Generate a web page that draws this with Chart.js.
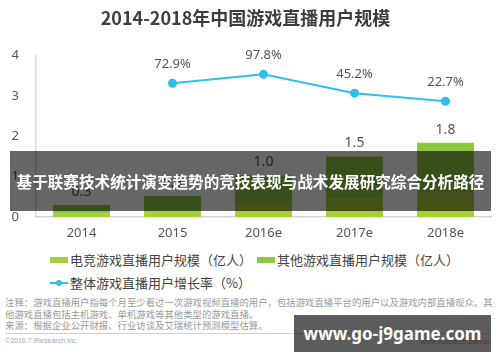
<!DOCTYPE html>
<html>
<head>
<meta charset="utf-8">
<script src="https://cdn.jsdelivr.net/npm/chart.js@4.4.0/dist/chart.umd.min.js"></script>
<style>
  body { margin: 0; background: #fff; font-family: "Noto Sans CJK SC", "Noto Sans", sans-serif; }
  #page { position: relative; width: 500px; height: 362px; overflow: hidden; background: #fff; }
  #chartBox { position: absolute; left: 0; top: 0; width: 500px; height: 246px; }
  .legend-item { position: absolute; font-size: 13px; color: #444; line-height: 16px; white-space: nowrap; }
  .swatch { display: inline-block; width: 18px; height: 6px; vertical-align: middle; margin-right: 2px; position: relative; top: -1px; }
  .line-swatch { display: inline-block; width: 18px; height: 2px; background: #2ec0e8; vertical-align: middle; margin-right: 2px; position: relative; top: -1px; }
  .line-swatch::after { content: ''; position: absolute; left: 6px; top: -2px; width: 6px; height: 6px; border-radius: 50%; background: #2ec0e8; }
  #notes { position: absolute; left: 5px; top: 297px; width: 495px; font-size: 9.4px; line-height: 11.5px; color: #9a9a9a; white-space: nowrap; }
  #divider { position: absolute; left: 5px; top: 333px; width: 486px; height: 1px; background: #d0d0d0; }
  #copy { position: absolute; left: 5px; top: 337px; font-family: "Liberation Sans", sans-serif; font-size: 7px; color: #aaa; }
  #site { position: absolute; right: 9px; top: 338px; font-family: "Liberation Sans", sans-serif; font-size: 7px; color: #aaa; }
  #banner { position: absolute; left: 10px; top: 151px; width: 481px; height: 60px; background: rgba(0,0,0,0.6);
            color: #fff; font-family: "Noto Sans CJK SC", sans-serif; font-weight: bold; font-size: 15.6px;
            line-height: 60px; text-align: center; white-space: nowrap; }
  #mark { position: absolute; left: 294px; top: 315px; width: 197px; height: 37px; background: rgba(0,0,0,0.64);
          color: #fff; font-family: "Noto Sans", sans-serif; font-weight: bold; font-size: 17px; line-height: 37px;
          text-align: center; white-space: nowrap; }
</style>
</head>
<body>
<div id="page">
  <div id="chartBox"><canvas id="chart"></canvas></div>

  <div class="legend-item" style="left:50px; top:252px;"><span class="swatch" style="background:#a6ce39"></span>电竞游戏直播用户规模（亿人）</div>
  <div class="legend-item" style="left:257px; top:252px;"><span class="swatch" style="background:#8dc63f"></span>其他游戏直播用户规模（亿人）</div>
  <div class="legend-item" style="left:50px; top:275px;"><span class="line-swatch"></span>整体游戏直播用户增长率（%）</div>

  <div id="notes">注释：游戏直播用户指每个月至少看过一次游戏视频直播的用户，包括游戏直播平台的用户以及游戏内部直播观众。其<br>他游戏直播包括主机游戏、单机游戏等其他类型的游戏直播。<br>来源：根据企业公开财报、行业访谈及艾瑞统计预测模型估算。</div>
  <div id="divider"></div>
  <div id="copy">©2016.7 iResearch Inc.</div>
  <div id="site">www.iresearch.com.cn</div>

  <div id="banner">基于联赛技术统计演变趋势的竞技表现与战术发展研究综合分析路径</div>
  <div id="mark">www.go-j9game.com</div>
</div>

<script>
// chart data
const years = ['2014', '2015', '2016e', '2017e', '2018e'];
const esportsUsers = [0.08, 0.15, 0.30, 0.45, 0.60];   // 电竞 (亿人)
const otherUsers = [0.22, 0.37, 0.73, 1.05, 1.24];     // 其他 (亿人)
const growthRate = [null, 72.9, 97.8, 45.2, 22.7];     // 整体增长率 (%)

const totals = years.map((y, i) => esportsUsers[i] + otherUsers[i]);

// draws the value labels on top of bars and line points
const valueLabels = {
    id: 'valueLabels',
    afterDatasetsDraw(chart) {
        const ctx = chart.ctx;
        ctx.save();
        ctx.fillStyle = '#555';
        ctx.textAlign = 'center';
        ctx.textBaseline = 'middle';

        ctx.font = '14px "Noto Sans", sans-serif';
        chart.getDatasetMeta(1).data.forEach((bar, i) => {
            ctx.fillText(totals[i].toFixed(1), bar.x, bar.y - 13);
        });

        ctx.font = '13px "Noto Sans", sans-serif';
        chart.getDatasetMeta(2).data.forEach((pt, i) => {
            if (growthRate[i] == null) return;
            ctx.fillText(growthRate[i].toFixed(1) + '%', pt.x, pt.y - 19);
        });
        ctx.restore();
    }
};

const ctx = document.getElementById('chart');
new Chart(ctx, {
    type: 'bar',
    data: {
        labels: years,
        datasets: [
            {
                label: '电竞游戏直播用户规模（亿人）',
                data: esportsUsers,
                backgroundColor: '#a6ce39',
                stack: 'users',
                order: 1
            },
            {
                label: '其他游戏直播用户规模（亿人）',
                data: otherUsers,
                backgroundColor: '#8dc63f',
                stack: 'users',
                order: 1
            },
            {
                type: 'line',
                label: '整体游戏直播用户增长率（%）',
                data: growthRate,
                yAxisID: 'y1',
                borderColor: '#2ec0e8',
                backgroundColor: '#2ec0e8',
                borderWidth: 2,
                pointRadius: 3.5,
                pointHoverRadius: 3.5,
                tension: 0,
                order: 0
            }
        ]
    },
    options: {
        responsive: true,
        maintainAspectRatio: false,
        animation: false,
        layout: { padding: { left: 0, right: 9, top: 0, bottom: 0 } },
        datasets: {
            bar: { barPercentage: 0.625, categoryPercentage: 1 }
        },
        plugins: {
            legend: { display: false },
            tooltip: { enabled: false },
            title: {
                display: true,
                text: '2014-2018年中国游戏直播用户规模',
                color: '#3d3d3d',
                font: { family: '"Noto Sans CJK SC", sans-serif', size: 18, weight: 'bold' },
                padding: { top: 7, bottom: 27 }
            }
        },
        scales: {
            x: {
                stacked: true,
                grid: { display: false, drawTicks: false },
                border: { color: '#d4d4d4', width: 1.5 },
                ticks: {
                    color: '#555',
                    font: { family: '"Noto Sans", sans-serif', size: 13 },
                    padding: 8
                },
                afterFit: (s) => { s.height = 29; }
            },
            y: {
                stacked: true,
                min: 0,
                max: 4,
                grid: { display: false, drawTicks: false },
                border: { color: '#d9d9d9', width: 1.5 },
                ticks: {
                    stepSize: 1,
                    color: '#555',
                    font: { family: '"Noto Sans", sans-serif', size: 13 },
                    padding: 17
                },
                afterFit: (s) => { s.width = 36; }
            },
            y1: {
                display: false,
                position: 'right',
                min: -300,
                max: 150
            }
        }
    },
    plugins: [valueLabels]
});
</script>
</body>
</html>
